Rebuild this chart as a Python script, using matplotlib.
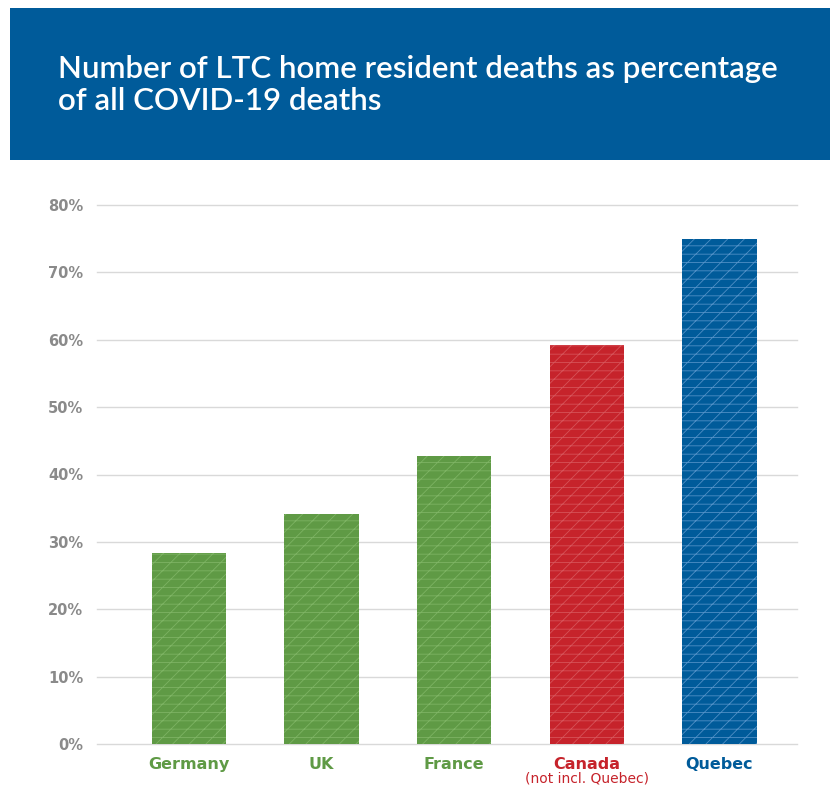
import matplotlib.pyplot as plt
from matplotlib.patches import Rectangle

paises = ["Germany", "UK", "France", "Canada", "Quebec"]
porcentajes = [28.3, 34.1, 42.7, 59.2, 74.9]
colores = ["#5f9a45", "#5f9a45", "#5f9a45", "#c6232b", "#005b9a"]
colores_trama = ["#7db363", "#7db363", "#7db363", "#d65258", "#4f8fc6"]
ticks_y = [0, 10, 20, 30, 40, 50, 60, 70, 80]

titulo = "Number of LTC home resident deaths as percentage\nof all COVID-19 deaths"

plt.rcParams["hatch.linewidth"] = 0.6

fig = plt.figure(figsize=(8.32, 7.88), dpi=100)

# Cabecera azul con el titulo
fig.patches.append(Rectangle((10 / 832, 1 - 160 / 788), 820 / 832, 152 / 788,
                             transform=fig.transFigure, facecolor="#005b9a",
                             edgecolor="none", zorder=0))
fig.text(58 / 832, 1 - 85 / 788, titulo, color="white", fontsize=22.5,
         fontweight="semibold", va="center", ha="left", linespacing=1.2,
         family="Lato")

ax = fig.add_axes([97 / 832, 44 / 788, 700 / 832, 539 / 788])

x = range(len(paises))
ax.bar(x, porcentajes, width=0.56, color=colores, edgecolor="none", zorder=2)
ax.bar(x, porcentajes, width=0.56, color="none", edgecolor=colores_trama,
       linewidth=0, hatch="//--", zorder=3)

ax.set_ylim(0, 80)
ax.set_xlim(-0.693, 4.584)
ax.set_yticks(ticks_y)
ax.set_yticklabels([f"{t}%" for t in ticks_y], color="#8a8a8a",
                   fontweight="bold", fontsize=10.5)
for t in ticks_y:
    ax.axhline(t, color="#d9d9d9", linewidth=1, zorder=1, clip_on=False)

ax.tick_params(axis="y", length=0, pad=10)
ax.tick_params(axis="x", length=0, labelbottom=False)
for s in ax.spines.values():
    s.set_visible(False)

for i, p in enumerate(paises):
    ax.text(i, -3.0, p, color=colores[i], fontweight="bold", fontsize=11.5,
            ha="center", va="center")
ax.text(3, -5.1, "(not incl. Quebec)", color=colores[3], fontsize=10,
        ha="center", va="center")

fig.savefig("out.png", dpi=100)
